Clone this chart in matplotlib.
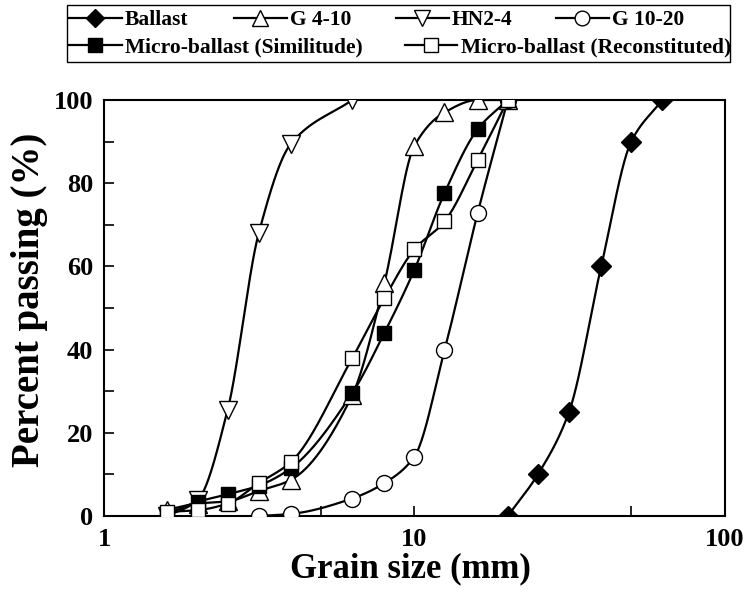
import numpy as np
import matplotlib
matplotlib.use("Agg")
import matplotlib.pyplot as plt
from matplotlib.lines import Line2D
from matplotlib.patches import Rectangle
from matplotlib.ticker import FixedLocator, NullFormatter

plt.rcParams['font.family'] = ['Liberation Serif', 'DejaVu Serif']
plt.rcParams['font.weight'] = 'bold'

# ---- data ----
ballast_size = [20, 25, 31.5, 40, 50, 63]
ballast_pass = [0, 10, 25, 60, 90, 100]

g410_size = [1.6, 2, 2.5, 3.15, 4, 6.3, 8, 10, 12.5, 16, 20]
g410_pass = [1.5, 3, 3.5, 6, 8.7, 29, 56, 89, 97, 100, 100]

hn24_size = [1.6, 2, 2.5, 3.15, 4, 6.3]
hn24_pass = [0, 3.8, 25.5, 68, 89.5, 100]

g1020_size = [3.15, 4, 6.3, 8, 10, 12.5, 16, 20]
g1020_pass = [0, 0.5, 4.2, 7.9, 14.3, 39.8, 72.9, 100]

sim_size = [1.6, 2, 2.5, 3.15, 4, 6.3, 8, 10, 12.5, 16, 20]
sim_pass = [0.5, 3.4, 5.2, 7.3, 11.5, 29.5, 44, 59.2, 77.6, 93, 100]

rec_size = [1.6, 2, 2.5, 3.15, 4, 6.3, 8, 10, 12.5, 16, 20]
rec_pass = [1, 1.4, 3, 7.9, 13, 37.9, 52.3, 64.1, 70.8, 85.6, 100]

labels = ["Ballast", "G 4-10", "HN2-4", "G 10-20",
          "Micro-ballast (Similitude)", "Micro-ballast (Reconstituted)"]
x_ticks = [1, 10, 100]
y_ticks = [0, 20, 40, 60, 80, 100]


def smooth(xs, ys, n=200):
    """Monotone (PCHIP) curve through the points, in log10(x) space."""
    x = np.log10(np.asarray(xs, float))
    y = np.asarray(ys, float)
    h = np.diff(x)
    d = np.diff(y) / h
    m = np.zeros_like(y)
    for k in range(1, len(x) - 1):
        if d[k - 1] * d[k] > 0:
            w1 = 2 * h[k] + h[k - 1]
            w2 = h[k] + 2 * h[k - 1]
            m[k] = (w1 + w2) / (w1 / d[k - 1] + w2 / d[k])
    m[0] = d[0]
    m[-1] = d[-1]
    xq = np.linspace(x[0], x[-1], n)
    idx = np.clip(np.searchsorted(x, xq) - 1, 0, len(x) - 2)
    t = (xq - x[idx]) / h[idx]
    h00 = 2 * t**3 - 3 * t**2 + 1
    h10 = t**3 - 2 * t**2 + t
    h01 = -2 * t**3 + 3 * t**2
    h11 = t**3 - t**2
    yq = h00 * y[idx] + h10 * h[idx] * m[idx] + h01 * y[idx + 1] + h11 * h[idx] * m[idx + 1]
    return 10**xq, yq


series = [
    (ballast_size, ballast_pass, dict(marker='D', mfc='black', ms=10)),
    (g410_size, g410_pass, dict(marker='^', mfc='white', ms=13)),
    (hn24_size, hn24_pass, dict(marker='v', mfc='white', ms=13)),
    (g1020_size, g1020_pass, dict(marker='o', mfc='white', ms=11.5)),
    (sim_size, sim_pass, dict(marker='s', mfc='black', ms=10.5)),
    (rec_size, rec_pass, dict(marker='s', mfc='white', ms=10.5)),
]

fig = plt.figure(figsize=(7.44, 5.97), dpi=100)
ax = fig.add_axes([0.140, 0.1357, 0.834, 0.6968])

handles = []
for (xs, ys, st), lab in zip(series, labels):
    cx, cy = smooth(xs, ys)
    ax.plot(cx, cy, color='black', lw=1.6, zorder=2)
    ax.plot(xs, ys, ls='none', marker=st['marker'], mfc=st['mfc'],
            mec='black', mew=1.0, ms=st['ms'], zorder=3)
    handles.append(Line2D([], [], color='black', lw=1.6, marker=st['marker'],
                          mfc=st['mfc'], mec='black', mew=1.0,
                          ms=st['ms'] * 0.92, label=lab))

ax.set_xscale('log')
ax.set_xlim(1, 100)
ax.set_ylim(0, 100)
ax.xaxis.set_major_locator(FixedLocator(x_ticks))
ax.set_xticklabels([str(v) for v in x_ticks])
ax.xaxis.set_minor_locator(FixedLocator([5, 50]))
ax.xaxis.set_minor_formatter(NullFormatter())
ax.yaxis.set_major_locator(FixedLocator(y_ticks))
ax.set_yticklabels([str(v) for v in y_ticks])
ax.yaxis.set_minor_locator(FixedLocator([10, 30, 50, 70, 90]))

ax.tick_params(axis='both', which='both', direction='in', length=7,
               width=1.2, labelsize=19, pad=8)
ax.tick_params(axis='x', pad=9)
for lab in ax.get_xticklabels() + ax.get_yticklabels():
    lab.set_fontweight('bold')
for sp in ax.spines.values():
    sp.set_linewidth(1.5)

ax.set_xlabel('Grain size (mm)', fontsize=25, fontweight='bold')
ax.set_ylabel('Percent passing (%)', fontsize=28, fontweight='bold')
ax.xaxis.set_label_coords(0.494, -0.088)
ax.yaxis.set_label_coords(-0.09, 0.52)

# legend box
fig.patches.append(Rectangle((0.090, 0.896), 0.891, 0.0956, transform=fig.transFigure,
                             fill=False, edgecolor='black', lw=1.0))
leg_kw = dict(frameon=False, handlelength=2.45, handletextpad=0.15,
              borderaxespad=0, borderpad=0, prop={'weight': 'bold', 'size': 15.5})
anchors = [(0.0927, 0.966), (0.3145, 0.966), (0.532, 0.966), (0.747, 0.966),
           (0.0927, 0.921), (0.544, 0.921)]
for h, anc in zip(handles, anchors):
    fig.legend(handles=[h], loc='center left', bbox_to_anchor=anc, **leg_kw)

fig.savefig('out.png', dpi=100)
